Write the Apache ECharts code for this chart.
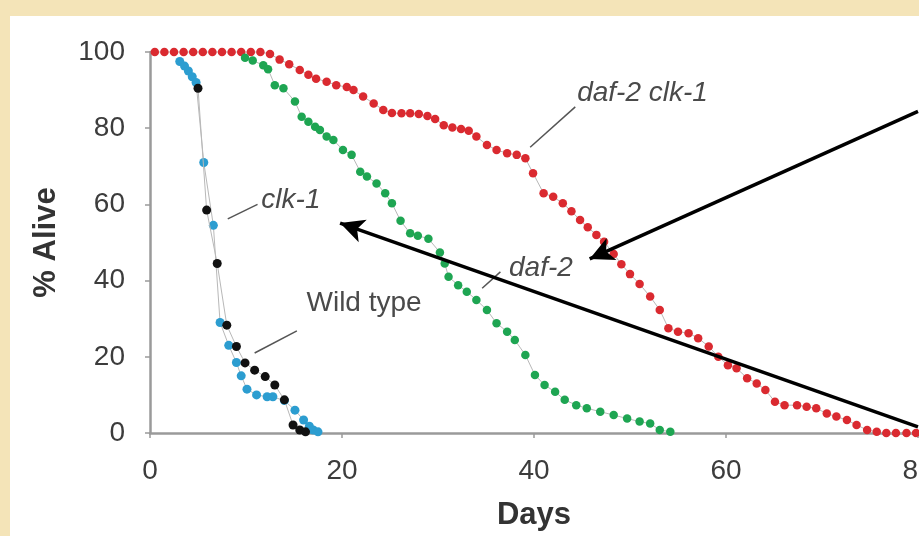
<!DOCTYPE html>
<html>
<head>
<meta charset="utf-8">
<script src="https://cdn.jsdelivr.net/npm/echarts@6/dist/echarts.min.js"></script>
<style>
html,body{margin:0;padding:0;background:#F4E4B8;}
#c{width:919px;height:536px;}
</style>
</head>
<body>
<div id="c"></div>
<script>
// ---- data (day, % alive) ----
const xTicks = [0, 20, 40, 60, 80];
const yTicks = [0, 20, 40, 60, 80, 100];

const daf2clk1Days = [0.5,1.5,2.5,3.5,4.5,5.5,6.5,7.5,8.5,9.5,10.5,11.5,12.5,13.5,14.5,15.6,16.5,17.3,18.4,19.4,20.5,21.2,22.2,23.3,24.3,25.2,26.2,27.1,28.0,28.9,29.7,30.6,31.5,32.4,33.2,34.0,35.1,36.1,37.2,38.2,39.1,39.9,41.0,42.0,43.0,43.9,44.8,45.6,46.5,47.3,48.3,49.1,50.0,51.0,52.1,53.1,54.0,55.0,56.1,57.1,58.2,59.2,60.2,61.1,62.2,63.2,64.1,65.1,66.1,67.4,68.4,69.4,70.5,71.5,72.6,73.6,74.7,75.7,76.7,77.7,78.8,79.8];
const daf2clk1Alive = [100,100,100,100,100,100,100,100,100,100,100,100,99.5,98,96.8,95.3,94,93,92.2,91.3,90.8,90,88.3,86.5,84.8,84,83.9,83.9,83.7,83.2,82.4,80.8,80.2,79.8,79.3,77.8,75.6,74.3,73.4,73.0,72.1,68.2,62.9,62.0,60.3,58.2,55.9,54,52.0,50.2,47,44.3,41.7,39.1,35.8,32.3,27.5,26.6,26.2,24.9,22.7,20.0,17.8,17.0,14.4,13.0,11.3,8.2,7.3,7.3,6.9,6.5,5.1,4.3,3.4,2.1,0.8,0.3,0,0,0,0];

const daf2Days = [9.9,10.7,11.8,12.3,13.0,13.9,15.1,15.8,16.5,17.2,17.7,18.4,19.1,20.1,21.0,21.9,22.6,23.6,24.5,25.2,26.1,27.1,27.9,29.0,30.2,30.7,31.1,32.1,33.0,34.0,35.1,36.1,37.2,38.0,39.1,40.1,41.1,42.2,43.2,44.4,45.5,46.9,48.3,49.7,51.0,52.1,53.1,54.2];
const daf2Alive = [98.5,97.8,96.5,95.5,91.3,90.5,87.0,83.0,81.7,80.4,79.5,77.8,76.9,74.3,73.0,68.6,67.3,65.5,62.9,60.3,55.7,52.4,51.8,51.0,47.4,44.5,41.0,38.8,37.1,34.9,32.3,28.8,26.6,24.4,20.5,15.2,12.6,10.8,8.7,7.3,6.5,5.6,4.7,3.8,3.0,2.5,0.8,0.3];

const clk1Days = [3.1,3.6,4.0,4.4,4.8,5.6,6.6,7.3,8.2,9.0,9.5,10.1,11.1,12.2,12.8,14.0,15.1,16.0,16.6,17.0,17.5];
const clk1Alive = [97.5,96.3,95,93.5,92,71,54.5,29,23,18.5,15,11.5,10,9.5,9.5,8.5,6,3.4,1.8,0.8,0.3];

const wildDays = [5.0,5.9,7.0,8.0,9.0,9.9,10.9,12.0,13.0,14.0,14.9,15.6,16.2];
const wildAlive = [90.5,58.5,44.5,28.3,22.7,18.4,16.5,14.8,12.6,8.7,2.1,0.8,0.3];

const seriesNames = ['daf-2 clk-1', 'daf-2', 'clk-1', 'Wild type'];
const seriesColors = ['#DA2A30', '#1EA552', '#2C9DD0', '#111111'];

// annotations (text, anchor in data coords, italic)
const annText = ['clk-1', 'Wild type', 'daf-2', 'daf-2 clk-1'];
const annAt = [[11.6, 61.2], [16.3, 34.1], [37.4, 43.3], [44.5, 89.2]];
const annItalic = [true, false, true, true];
const leaders = [
  [[8.1, 56.2], [11.2, 60.0]],
  [[10.9, 21.0], [15.3, 26.8]],
  [[34.6, 38.0], [36.5, 42.3]],
  [[39.6, 75.0], [44.3, 85.6]]
];
const arrows = [
  [[80, 84.4], [45.8, 45.7]],
  [[80, 1.6], [19.8, 55.1]]
];

function zip(a, b) { return a.map((v, i) => [v, b[i]]); }

const chart = echarts.init(document.getElementById('c'), null, {renderer: 'canvas'});
const font = '"Liberation Sans", Arial, Helvetica, sans-serif';

const dataSets = [zip(daf2clk1Days, daf2clk1Alive), zip(daf2Days, daf2Alive), zip(clk1Days, clk1Alive), zip(wildDays, wildAlive)];

const series = dataSets.map((d, i) => ({
  name: seriesNames[i],
  type: 'line',
  data: d,
  symbol: 'circle',
  symbolSize: i >= 2 ? 9 : 8.5,
  showSymbol: true,
  lineStyle: {color: '#B8B8B8', width: 1},
  itemStyle: {color: seriesColors[i]},
  z: 3 + i,
  clip: false,
  animation: false,
  silent: true
}));

// leader lines + arrows as markLines on empty helper series
series.push({
  type: 'line',
  data: [],
  silent: true,
  animation: false,
  clip: false,
  z: 10,
  markLine: {
    silent: true,
    animation: false,
    symbol: ['none', 'none'],
    label: {show: false},
    lineStyle: {color: '#555', width: 1.5, type: 'solid'},
    data: leaders.map(l => [{coord: l[0]}, {coord: l[1]}])
  }
});
series.push({
  type: 'line',
  data: [],
  silent: true,
  animation: false,
  clip: false,
  z: 11,
  markLine: {
    silent: true,
    animation: false,
    symbol: ['none', 'arrow'],
    symbolSize: [18, 24],
    label: {show: false},
    lineStyle: {color: '#000', width: 3.5, type: 'solid'},
    data: arrows.map(l => [{coord: l[0]}, {coord: l[1]}])
  }
});

const bgRect = {
  type: 'rect', left: 10, top: 16, z: -10, silent: true,
  shape: {width: 919, height: 536},
  style: {fill: '#FFFFFF'}
};

chart.setOption({
  backgroundColor: '#F4E4B8',
  animation: false,
  grid: {left: 150, right: 1, top: 52, bottom: 103, containLabel: false, outerBoundsMode: 'none'},
  xAxis: {
    type: 'value', min: xTicks[0], max: xTicks[xTicks.length - 1], interval: 20,
    name: 'Days', nameLocation: 'middle', nameGap: 67,
    nameTextStyle: {fontFamily: font, fontSize: 31, fontWeight: 'bold', color: '#333'},
    axisLine: {show: true, lineStyle: {color: '#9A9A9A', width: 2.5}},
    axisTick: {show: true, length: 5, lineStyle: {color: '#9A9A9A', width: 1.5}},
    axisLabel: {fontFamily: font, fontSize: 28, color: '#3C3C3C', margin: 24},
    splitLine: {show: false}
  },
  yAxis: {
    type: 'value', min: yTicks[0], max: yTicks[yTicks.length - 1], interval: 20,
    name: '% Alive', nameLocation: 'middle', nameGap: 88, nameRotate: 90,
    nameTextStyle: {fontFamily: font, fontSize: 31, fontWeight: 'bold', color: '#333'},
    axisLine: {show: true, lineStyle: {color: '#9A9A9A', width: 2.5}},
    axisTick: {show: true, length: 5, lineStyle: {color: '#9A9A9A', width: 1.5}},
    axisLabel: {fontFamily: font, fontSize: 28, color: '#3C3C3C', margin: 25},
    splitLine: {show: false}
  },
  graphic: [bgRect],
  series: series
});

// annotation texts
const g = annText.map((t, i) => {
  const p = chart.convertToPixel({xAxisIndex: 0, yAxisIndex: 0}, annAt[i]);
  return {
    type: 'text', x: p[0], y: p[1], z: 20, silent: true,
    style: {
      text: t, fill: '#4A4A4A', fontFamily: font, fontSize: 28,
      fontStyle: annItalic[i] ? 'italic' : 'normal',
      verticalAlign: 'middle', align: 'left'
    }
  };
});
chart.setOption({graphic: [bgRect].concat(g)});
</script>
</body>
</html>
